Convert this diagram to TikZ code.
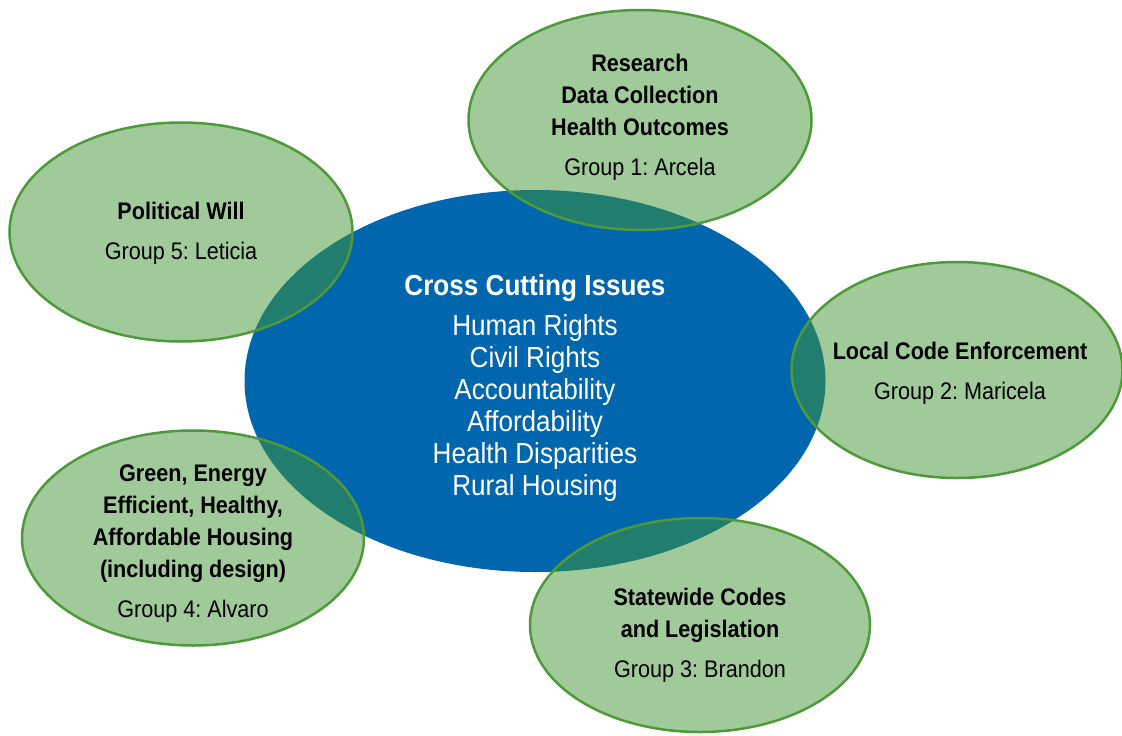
\documentclass[tikz,border=0pt]{standalone}
\usepackage{fontspec}
\setmainfont{Liberation Sans}[FakeStretch=0.9]
\usetikzlibrary{shapes,positioning}
\definecolor{issueblue}{RGB}{0,102,173}
\definecolor{groupgreen}{RGB}{66,150,51}
\definecolor{groupline}{RGB}{78,154,58}
\frenchspacing

\begin{document}
\begin{tikzpicture}[x=1pt,y=-1pt,
    issue/.style={ellipse, fill=issueblue, inner sep=0},
    issuetext/.style={text=white, align=center, inner sep=0,
        font=\fontsize{29}{32}\selectfont},
    group/.style={ellipse, draw=groupline, line width=2.5pt,
        fill=groupgreen, fill opacity=0.5, inner sep=0},
    grouptext/.style={align=center, inner sep=0,
        font=\fontsize{24}{32}\selectfont}]
\useasboundingbox (0,0) rectangle (1122,736);

% Centre block
\node[issue,
    minimum width=581pt, minimum height=382pt
] (issues) at (535,381) {};

% Group ellipses
\node[group,
    minimum width=343pt, minimum height=220pt
] (group1) at (640,120) {};
\node[group,
    minimum width=331pt, minimum height=216pt
] (group2) at (957,370) {};
\node[group,
    minimum width=340pt, minimum height=214pt
] (group3) at (700,625) {};
\node[group,
    minimum width=342pt, minimum height=215pt
] (group4) at (193,538) {};
\node[group,
    minimum width=343pt, minimum height=219pt
] (group5) at (181,232) {};

% Texts
\node[issuetext] (issues-text) at (535,388) {\textbf{Cross Cutting Issues}\\[8pt]
    Human Rights\\ Civil Rights\\ Accountability\\ Affordability\\
    Health Disparities\\ Rural Housing};
\node[grouptext] (group1-text) at (640,117) {\textbf{Research}\\ \textbf{Data Collection}\\
    \textbf{Health Outcomes}\\[8pt] Group 1: Arcela};
\node[grouptext] (group2-text) at (960,373) {\textbf{Local Code Enforcement}\\[8pt]
    Group 2: Maricela};
\node[grouptext] (group3-text) at (700,635) {\textbf{Statewide Codes}\\ \textbf{and Legislation}\\[8pt]
    Group 3: Brandon};
\node[grouptext] (group4-text) at (193,544) {\textbf{Green, Energy}\\ \textbf{Efficient, Healthy,}\\
    \textbf{Affordable Housing}\\ \textbf{(including design)}\\[8pt]
    Group 4: Alvaro};
\node[grouptext] (group5-text) at (181,233) {\textbf{Political Will}\\[8pt] Group 5: Leticia};

\end{tikzpicture}
\end{document}
